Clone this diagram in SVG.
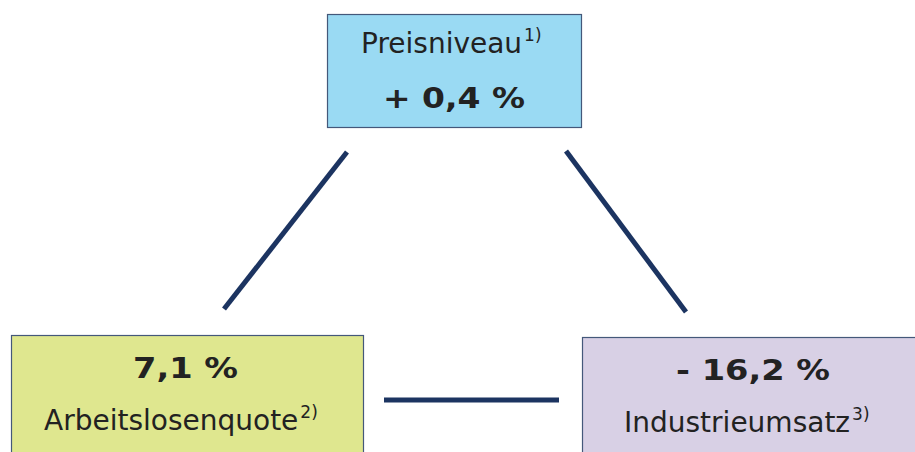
<svg xmlns="http://www.w3.org/2000/svg" width="915" height="452" viewBox="0 0 915 452">
<style>
.box{stroke:#44587a;stroke-width:1.2}
.reg{font-family:"DejaVu Sans",Verdana,sans-serif;font-size:28px;fill:#222}
.bold{font-family:"DejaVu Sans",Verdana,sans-serif;font-size:28px;font-weight:bold;fill:#222}
.sup{font-size:17px}
.conn{stroke:#1c3461;stroke-width:5;fill:none}
</style>
<rect width="915" height="452" fill="#fff"/>
<g id="connectors">
<line class="conn" x1="347" y1="152" x2="224" y2="309"/>
<line class="conn" x1="566" y1="151" x2="686" y2="312"/>
<line class="conn" x1="384" y1="400" x2="559" y2="400"/>
</g>
<g id="preisniveau">
<rect class="box" x="327.5" y="14.5" width="254" height="113" fill="#9adaf3"/>
<text class="reg" x="361" y="53">Preisniveau<tspan class="sup" dx="2" dy="-12">1)</tspan></text>
<text class="bold" x="383" y="108" textLength="142" lengthAdjust="spacingAndGlyphs">+ 0,4 %</text>
</g>
<g id="arbeitslosenquote">
<rect class="box" x="11.5" y="335.5" width="352" height="130" fill="#dfe78f"/>
<text class="bold" x="133" y="378" textLength="105" lengthAdjust="spacingAndGlyphs">7,1 %</text>
<text class="reg" x="44" y="430">Arbeitslosenquote<tspan class="sup" dx="2" dy="-12">2)</tspan></text>
</g>
<g id="industrieumsatz">
<rect class="box" x="582.5" y="337.5" width="350" height="130" fill="#d8d0e5"/>
<text class="bold" x="676" y="380" textLength="154" lengthAdjust="spacingAndGlyphs">- 16,2 %</text>
<text class="reg" x="624" y="432">Industrieumsatz<tspan class="sup" dx="2" dy="-12">3)</tspan></text>
</g>
</svg>
